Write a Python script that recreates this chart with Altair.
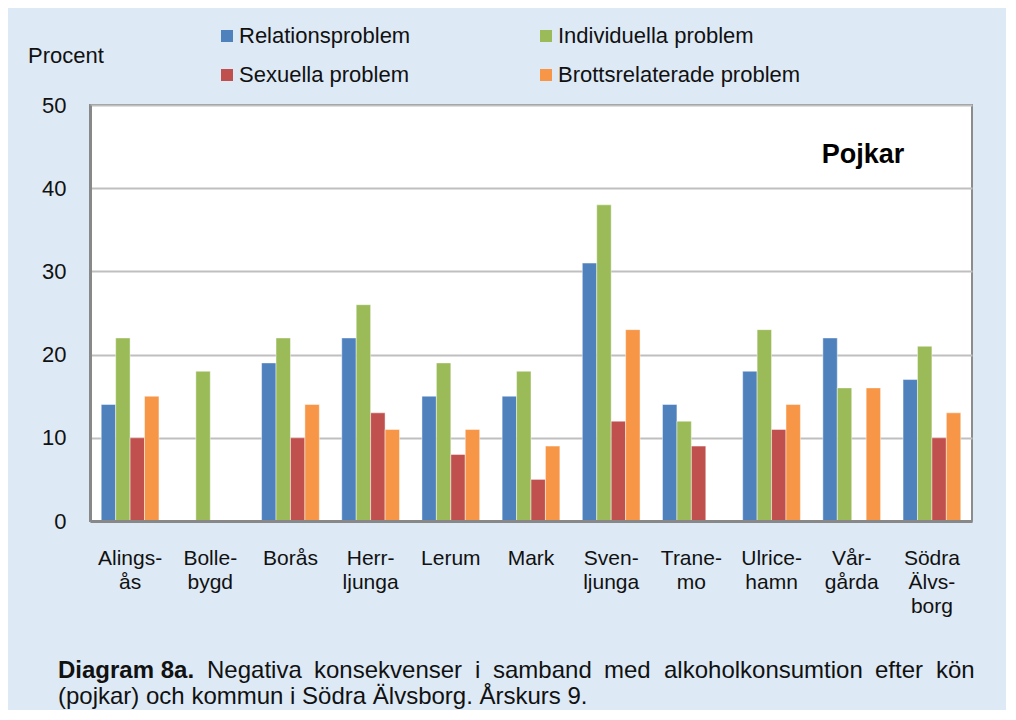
import altair as alt
import pandas as pd

kommuner = ["Alings-|ås", "Bolle-|bygd", "Borås", "Herr-|ljunga", "Lerum", "Mark",
            "Sven-|ljunga", "Trane-|mo", "Ulrice-|hamn", "Vår-|gårda", "Södra|Älvs-|borg"]
serier = ["Relationsproblem", "Individuella problem", "Sexuella problem", "Brottsrelaterade problem"]
relationsproblem = [14, None, 19, 22, 15, 15, 31, 14, 18, 22, 17]
individuella = [22, 18, 22, 26, 19, 18, 38, 12, 23, 16, 21]
sexuella = [10, None, 10, 13, 8, 5, 12, 9, 11, None, 10]
brottsrelaterade = [15, None, 14, 11, 11, 9, 23, None, 14, 16, 13]
farger = ["#4f81bd", "#9bbb59", "#c0504d", "#f79646"]
y_ticks = [0, 10, 20, 30, 40, 50]

# caption text (first line is justified in the original, so words are placed one by one)
caption_bold = "Diagram 8a."
caption_line1_words = ["Negativa", "konsekvenser", "i", "samband", "med",
                       "alkoholkonsumtion", "efter", "kön"]
caption_line2 = "(pojkar) och kommun i Södra Älvsborg. Årskurs 9."
# horizontal start of each word of line 1, in pixels relative to the plot's left edge (layout only)
caption_line1_x = [117, 224, 385, 403, 514, 574, 785, 846]

rows = []
for serie, vals in zip(serier, [relationsproblem, individuella, sexuella, brottsrelaterade]):
    for k, v in zip(kommuner, vals):
        if v is not None:
            rows.append({"kommun": k, "serie": serie, "procent": v})
df = pd.DataFrame(rows)

FONT = "Liberation Sans"
CAP_SIZE = 24

bars = alt.Chart(df).mark_bar(stroke="white", strokeOpacity=0.45, strokeWidth=1).encode(
    x=alt.X("kommun:N", sort=kommuner,
            scale=alt.Scale(paddingInner=0.28, paddingOuter=0.14),
            axis=alt.Axis(title=None, labelExpr="split(datum.value, '|')", labelAngle=0,
                          labelFontSize=21, labelLineHeight=24, labelPadding=26,
                          labelBaseline="top", ticks=False, domainColor="#888888",
                          domainWidth=3, labelColor="#111111", zindex=1)),
    xOffset=alt.XOffset("serie:N", sort=serier, scale=alt.Scale(paddingInner=0, paddingOuter=0)),
    y=alt.Y("procent:Q", scale=alt.Scale(domain=[0, 50], nice=False),
            axis=alt.Axis(title=None, values=y_ticks, gridColor="#bfbfbf", gridWidth=2,
                          ticks=False, domainColor="#888888", domainWidth=3,
                          labelFontSize=22, labelPadding=24, labelColor="#111111")),
    color=alt.Color("serie:N", sort=serier,
                    scale=alt.Scale(domain=serier, range=farger),
                    legend=alt.Legend(title=None, orient="none", legendX=126, legendY=-80,
                                      columns=2, direction="horizontal", symbolType="square",
                                      symbolSize=144, labelFontSize=22, columnPadding=124,
                                      rowPadding=17, labelOffset=1, padding=0, labelLimit=500,
                                      symbolStrokeWidth=0, labelColor="#111111")),
)

pojkar = alt.Chart(pd.DataFrame({"t": ["Pojkar"]})).mark_text(
    fontSize=27, fontWeight="bold", align="center", baseline="alphabetic", font=FONT, color="#000000"
).encode(text="t:N", x=alt.value(773), y=alt.value(58))

procent = alt.Chart(pd.DataFrame({"t": ["Procent"]})).mark_text(
    fontSize=22, align="left", baseline="alphabetic", font=FONT, color="#111111"
).encode(text="t:N", x=alt.value(-62), y=alt.value(-42))

cap_bold = alt.Chart(pd.DataFrame({"t": [caption_bold]})).mark_text(
    fontSize=CAP_SIZE, fontWeight="bold", align="left", baseline="alphabetic", font=FONT, color="#111111"
).encode(text="t:N", x=alt.value(-32), y=alt.value(573))

cap_words = [
    alt.Chart(pd.DataFrame({"t": [w]})).mark_text(
        fontSize=CAP_SIZE, align="left", baseline="alphabetic", font=FONT, color="#111111"
    ).encode(text="t:N", x=alt.value(xp), y=alt.value(573))
    for w, xp in zip(caption_line1_words, caption_line1_x)
]

cap_l2 = alt.Chart(pd.DataFrame({"t": [caption_line2]})).mark_text(
    fontSize=CAP_SIZE, align="left", baseline="alphabetic", font=FONT, color="#111111"
).encode(text="t:N", x=alt.value(-32), y=alt.value(599))

chart = alt.layer(bars, pojkar, procent, cap_bold, *cap_words, cap_l2).properties(
    width=882, height=416,
    padding={"left": 82, "top": 97, "right": 34, "bottom": 189},
    autosize=alt.AutoSizeParams(type="none"),
).configure(
    background="#dde9f5", font=FONT
).configure_view(
    fill="white", stroke="#8c8c8c", strokeWidth=2
).configure_axis(labelFont=FONT).configure_legend(labelFont=FONT)

chart.save("out.html", embed_options={"renderer": "svg", "actions": False})
